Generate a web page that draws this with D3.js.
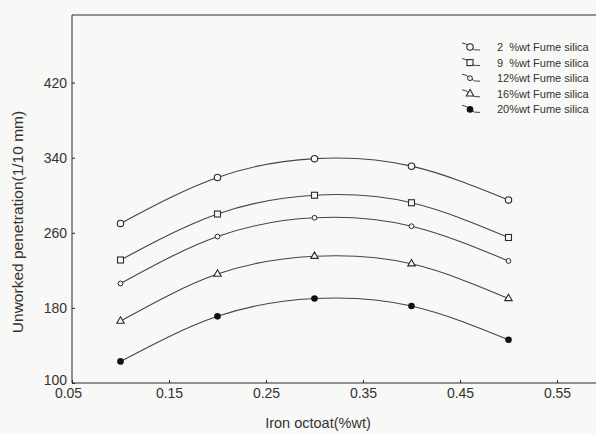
<!DOCTYPE html>
<html>
<head>
<meta charset="utf-8">
<script src="https://cdn.jsdelivr.net/npm/d3@7"></script>
<style>
  html, body { margin: 0; padding: 0; background: #f8f8f6; }
  svg { display: block; font-family: 'Liberation Sans', Arial, sans-serif; }
</style>
</head>
<body>
<div id="chart"></div>
<script>
const width = 596
const height = 434
const margin = { top: 15, bottom: 51, left: 72 }

const ironOctoat = [0.1, 0.2, 0.3, 0.4, 0.5]
const seriesNames = [
  '2  %wt Fume silica',
  '9  %wt Fume silica',
  '12%wt Fume silica',
  '16%wt Fume silica',
  '20%wt Fume silica'
]
const silica2 = [270, 319, 339, 331, 295]
const silica9 = [231, 280, 300, 292, 255]
const silica12 = [206, 256, 276, 267, 230]
const silica16 = [166, 216, 235, 227, 190]
const silica20 = [123, 171, 190, 182, 146]
const xTicks = [0.05, 0.15, 0.25, 0.35, 0.45, 0.55]
const yTicks = [100, 180, 260, 340, 420]

const symbols = ['circle', 'square', 'smallCircle', 'triangle', 'dot']
const series = [silica2, silica9, silica12, silica16, silica20].map((values, i) => ({
  name: seriesNames[i],
  symbol: symbols[i],
  points: values.map((v, j) => ({ x: ironOctoat[j], y: v }))
}))

const ink = '#2a2a2a'
const paper = '#f8f8f6'

const svg = d3.select('#chart').append('svg').attr('width', width).attr('height', height)

const xScale = d3.scaleLinear().domain([0.05, 0.6]).range([margin.left, margin.left + 0.55 * 970])
const yScale = d3.scaleLinear().domain([100, 492]).range([height - margin.bottom, margin.top])

const line = d3.line().x(d => xScale(d.x)).y(d => yScale(d.y)).curve(d3.curveNatural)

const drawMarker = (g, symbol) => {
  if (symbol === 'circle') {
    g.append('circle').attr('r', 3.2).attr('fill', paper).attr('stroke', ink).attr('stroke-width', 1.1)
  } else if (symbol === 'square') {
    g.append('rect').attr('x', -3).attr('y', -3).attr('width', 6).attr('height', 6)
      .attr('fill', paper).attr('stroke', ink).attr('stroke-width', 1.1)
  } else if (symbol === 'smallCircle') {
    g.append('circle').attr('r', 2.4).attr('fill', paper).attr('stroke', ink).attr('stroke-width', 1)
  } else if (symbol === 'triangle') {
    g.append('path').attr('d', d3.symbol(d3.symbolTriangle, 24)())
      .attr('fill', paper).attr('stroke', ink).attr('stroke-width', 1.1)
  } else {
    g.append('circle').attr('r', 3.3).attr('fill', '#111')
  }
}

// frame, open on the right where the scan is cut off
const x0 = xScale.range()[0]
const y0 = yScale.range()[0]
const y1 = yScale.range()[1]
svg.append('path')
  .attr('d', `M${width + 2},${y1}H${x0}V${y0}H${width + 2}`)
  .attr('fill', 'none').attr('stroke', ink).attr('stroke-width', 1)

// axes
const xAxis = svg.append('g').attr('transform', `translate(0,${y0})`)
  .call(d3.axisBottom(xScale).tickValues(xTicks).tickFormat(d3.format('.2f')).tickSize(-3).tickPadding(5))
xAxis.select('.domain').remove()
xAxis.selectAll('line').attr('stroke', ink)
xAxis.selectAll('text').attr('font-size', 14).attr('fill', '#333')

const yAxis = svg.append('g').attr('transform', `translate(${x0},0)`)
  .call(d3.axisLeft(yScale).tickValues(yTicks).tickFormat(d3.format('d')).tickSize(-3).tickPadding(5))
yAxis.select('.domain').remove()
yAxis.selectAll('line').attr('stroke', ink)
yAxis.selectAll('text').attr('font-size', 14).attr('fill', '#333')

xAxis.selectAll('.tick').filter(d => d === 0.05).select('text').attr('dx', -4)
yAxis.selectAll('.tick').filter(d => d === 100).select('text').attr('dy', '0.1em')

svg.append('text')
  .attr('x', 318).attr('y', 428)
  .attr('text-anchor', 'middle').attr('font-size', 14.5).attr('fill', '#333')
  .text('Iron octoat(%wt)')

svg.append('text')
  .attr('transform', 'translate(23,222) rotate(-90)')
  .attr('text-anchor', 'middle').attr('font-size', 15.5).attr('fill', '#333')
  .text('Unworked penetration(1/10 mm)')

// series
series.forEach(s => {
  svg.append('path').datum(s.points)
    .attr('d', line).attr('fill', 'none').attr('stroke', '#444').attr('stroke-width', 1.1)
  s.points.forEach(p => {
    const g = svg.append('g').attr('transform', `translate(${xScale(p.x)},${yScale(p.y)})`)
    drawMarker(g, s.symbol)
  })
})

// legend
const legend = svg.append('g').attr('transform', 'translate(462,47)')
series.forEach((s, i) => {
  const row = legend.append('g').attr('transform', `translate(0,${i * 15.6})`)
  row.append('path').attr('d', 'M0,-4 Q4,-4 8,0 T18,3')
    .attr('fill', 'none').attr('stroke', '#444').attr('stroke-width', 1)
  const g = row.append('g').attr('transform', 'translate(8,0)')
  drawMarker(g, s.symbol)
  row.append('text').attr('x', 35).attr('y', 4)
    .attr('font-size', 11).attr('fill', '#333')
    .style('white-space', 'pre')
    .text(s.name)
})
</script>
</body>
</html>
